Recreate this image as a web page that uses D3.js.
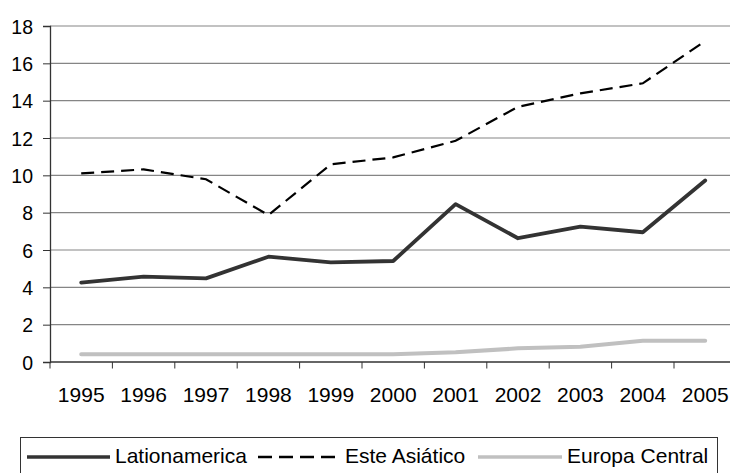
<!DOCTYPE html>
<html><head><meta charset="utf-8">
<script src="https://cdn.jsdelivr.net/npm/d3@7"></script>
<style>body{margin:0;background:#fff;overflow:hidden}svg{display:block}text{font-family:"Liberation Sans",Arial,sans-serif;fill:#000}</style>
</head><body>
<svg id="c" width="730" height="473"></svg>
<script>
const years = ["1995","1996","1997","1998","1999","2000","2001","2002","2003","2004","2005"];
const latinoamerica = [4.25,4.57,4.48,5.64,5.34,5.41,8.46,6.63,7.25,6.95,9.72];
const esteAsiatico = [10.1,10.32,9.79,7.87,10.59,10.96,11.85,13.67,14.39,14.93,17.19];
const europaCentral = [0.41,0.41,0.41,0.41,0.41,0.41,0.52,0.73,0.82,1.14,1.14];
const yTicks = [0,2,4,6,8,10,12,14,16,18];
const seriesNames = ["Lationamerica","Este Asiático","Europa Central"];

const svg = d3.select("#c");
const mLeft = 50, mTop = 26, mBottom = 362, bandW = 62.4;
const FONT = "Liberation Sans, Arial, sans-serif";
const x = d3.scaleBand().domain(years).range([mLeft, mLeft + bandW*years.length]).padding(0);
const y = d3.scaleLinear().domain([0,18]).range([mBottom, mTop]);

// gridlines
svg.append("g").selectAll("line").data(yTicks.filter(d=>d>0)).join("line")
  .attr("x1", mLeft).attr("x2", 730).attr("y1", d=>y(d)).attr("y2", d=>y(d))
  .attr("stroke", "#858585").attr("stroke-width", 1.2);

// y axis
const ya = svg.append("g").attr("transform", `translate(${mLeft},0)`)
  .call(d3.axisLeft(y).tickValues(yTicks).tickSize(7).tickPadding(10));
ya.select(".domain").attr("stroke","#333").attr("stroke-width",1.3);
ya.selectAll(".tick line").attr("stroke","#333");
ya.selectAll("text").attr("font-size",19.5).attr("font-family",FONT).attr("fill","#000").attr("dy","0.36em");

// x axis
const xa = svg.append("g").attr("transform", `translate(0,${mBottom})`)
  .call(d3.axisBottom(x).tickSize(0).tickPadding(0));
xa.select(".domain").attr("stroke","#333").attr("stroke-width",1.3).attr("d", `M${mLeft},0H730`);
xa.selectAll("text").attr("font-size",21).attr("font-family",FONT).attr("fill","#000")
  .attr("dy",null).attr("y",39.5);
// tick marks between categories
const bounds = years.map(d=>x(d)).concat([x(years[years.length-1])+x.bandwidth()]);
svg.append("g").selectAll("line").data(bounds).join("line")
  .attr("x1", d=>d).attr("x2", d=>d).attr("y1", mBottom).attr("y2", mBottom+6.5)
  .attr("stroke","#333").attr("stroke-width",1);

const cx = d => x(d) + x.bandwidth()/2;
const line = vals => d3.line().x((d,i)=>cx(years[i])).y(d=>y(d))(vals);

svg.append("path").attr("d", line(europaCentral)).attr("fill","none")
  .attr("stroke","#c0c0c0").attr("stroke-width",4).attr("stroke-linecap","round");
svg.append("path").attr("d", line(esteAsiatico)).attr("fill","none")
  .attr("stroke","#000").attr("stroke-width",2.2).attr("stroke-dasharray","13,7");
svg.append("path").attr("d", line(latinoamerica)).attr("fill","none")
  .attr("stroke","#333").attr("stroke-width",3.8).attr("stroke-linecap","round").attr("stroke-linejoin","round");

// legend
svg.append("rect").attr("x",20.5).attr("y",437.5).attr("width",697).attr("height",45)
  .attr("fill","#fff").attr("stroke","#333").attr("stroke-width",1);
const ly = 457;
const leg = [
  {x1:27,x2:110,tx:115,stroke:"#333",w:3.5,dash:null},
  {x1:258,x2:338,tx:345,stroke:"#000",w:2.5,dash:"14,7"},
  {x1:478,x2:562,tx:567,stroke:"#c0c0c0",w:3.5,dash:null}
];
leg.forEach((l,i)=>{
  const ln = svg.append("line").attr("x1",l.x1).attr("x2",l.x2).attr("y1",ly).attr("y2",ly)
    .attr("stroke",l.stroke).attr("stroke-width",l.w);
  if(l.dash) ln.attr("stroke-dasharray",l.dash);
  svg.append("text").attr("x",l.tx).attr("y",463).attr("font-size",21).attr("font-family",FONT).text(seriesNames[i]);
});
</script>
</body></html>
